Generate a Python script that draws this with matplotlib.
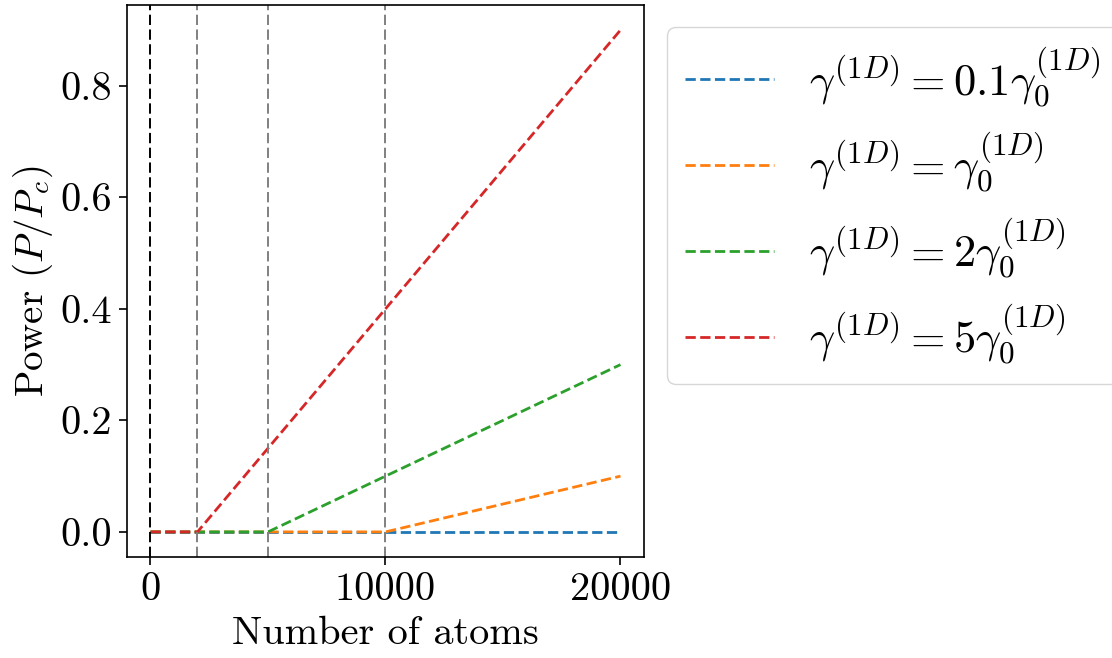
import matplotlib
matplotlib.use("Agg")
import matplotlib.pyplot as plt

# Computer Modern look without a LaTeX install
plt.rcParams["font.family"] = "serif"
plt.rcParams["font.serif"] = ["cmr10"]
plt.rcParams["mathtext.fontset"] = "cm"
plt.rcParams["axes.formatter.use_mathtext"] = True
plt.rcParams["font.size"] = 29

# Power vs number of atoms for each decay rate
atoms_01 = [0, 20000]
power_01 = [0.0, 0.0]
atoms_1 = [0, 10000, 20000]
power_1 = [0.0, 0.0, 0.1]
atoms_2 = [0, 5000, 20000]
power_2 = [0.0, 0.0, 0.3]
atoms_5 = [0, 2000, 20000]
power_5 = [0.0, 0.0, 0.9]

labels = [
    r"$\gamma^{(1D)} = 0.1\gamma_0^{(1D)}$",
    r"$\gamma^{(1D)} = \gamma_0^{(1D)}$",
    r"$\gamma^{(1D)} = 2\gamma_0^{(1D)}$",
    r"$\gamma^{(1D)} = 5\gamma_0^{(1D)}$",
]

# threshold atom numbers marked with vertical lines
thresholds = [2000, 5000, 10000]
origin = 0

fig = plt.figure(figsize=(11.12, 6.58), dpi=100)
ax = fig.add_axes([0.1142, 0.1535, 0.4649, 0.8389])

ax.plot(atoms_01, power_01, "--", color="tab:blue", lw=2, label=labels[0])
ax.plot(atoms_1, power_1, "--", color="tab:orange", lw=2, label=labels[1])
ax.plot(atoms_2, power_2, "--", color="tab:green", lw=2, label=labels[2])
ax.plot(atoms_5, power_5, "--", color="tab:red", lw=2, label=labels[3])

ax.axvline(origin, color="black", lw=1.4, ls=(0, (5.3, 2.3)))
for t in thresholds:
    ax.axvline(t, color="gray", lw=1.4, ls=(0, (5.3, 2.3)))

ax.set_xlim(-1000, 21000)
ax.set_ylim(-0.045, 0.945)
ax.set_xticks([0, 10000, 20000])
ax.set_xticklabels(["0", "10000", "20000"])
ax.set_yticks([0.0, 0.2, 0.4, 0.6, 0.8])
ax.set_yticklabels(["0.0", "0.2", "0.4", "0.6", "0.8"])
ax.tick_params(length=6, width=1.2, pad=5, labelsize=29)
for s in ax.spines.values():
    s.set_linewidth(1.2)

ax.set_xlabel("Number of atoms", fontsize=29, labelpad=6)
ax.set_ylabel(r"Power $(P/P_c)$", fontsize=28, labelpad=4)

fig.legend(loc="upper left", bbox_to_anchor=(0.6, 0.959),
           bbox_transform=fig.transFigure, borderaxespad=0,
           handlelength=2, fontsize=32)

fig.savefig("out.png", dpi=100)
